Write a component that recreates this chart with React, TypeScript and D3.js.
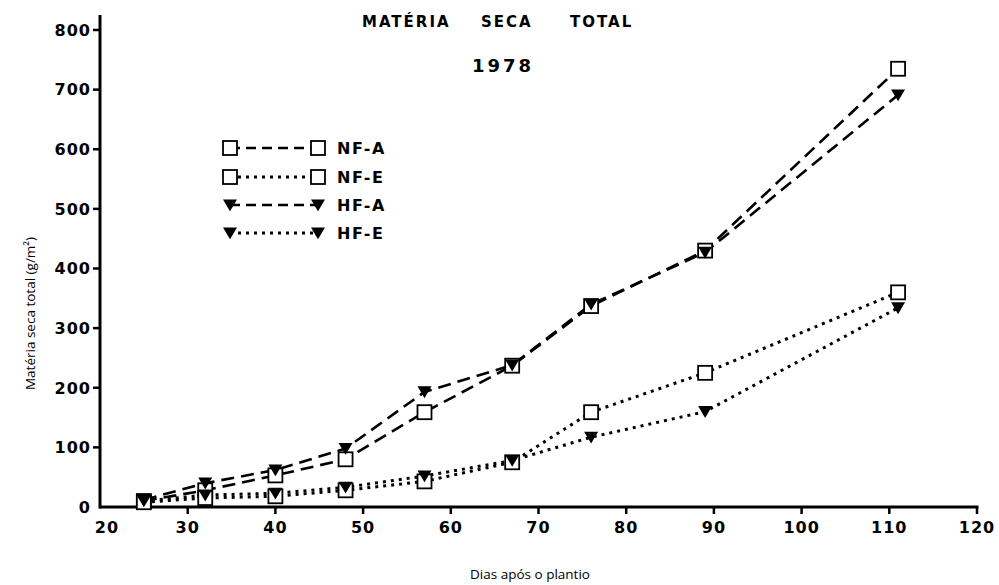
import React from 'react'
import * as d3 from 'd3'

// days after planting
const days = [25, 32, 40, 48, 57, 67, 76, 89, 111]

// total dry matter (g/m2)
const nfA = [10, 28, 53, 80, 159, 237, 337, 430, 735]
const nfE = [8, 15, 18, 28, 43, 75, 159, 225, 360]
const hfA = [12, 40, 62, 98, 193, 238, 340, 427, 691]
const hfE = [10, 20, 23, 33, 52, 78, 117, 160, 334]

const xTicks = [20, 30, 40, 50, 60, 70, 80, 90, 100, 110, 120]
const yTicks = [0, 100, 200, 300, 400, 500, 600, 700, 800]

const seriesNames = ['NF-A', 'NF-E', 'HF-A', 'HF-E']

const W = 999,
  H = 585

const font = "'DejaVu Sans', sans-serif"

const dashed = '13 7'
const dotted = '3 5'

const series = [
  { name: seriesNames[0], values: nfA, marker: 'square', dash: dashed },
  { name: seriesNames[1], values: nfE, marker: 'square', dash: dotted },
  { name: seriesNames[2], values: hfA, marker: 'tri', dash: dashed },
  { name: seriesNames[3], values: hfE, marker: 'tri', dash: dotted }
]

const Marker = ({ type, cx, cy }: { type: string; cx: number; cy: number }) => {
  if (type === 'square') {
    return (
      <rect
        x={cx - 7}
        y={cy - 7}
        width={14}
        height={14}
        fill="#fff"
        stroke="#000"
        strokeWidth={1.8}
      />
    )
  }
  const s = 7
  return (
    <path
      d={`M${cx - s},${cy - s * 0.8} L${cx + s},${cy - s * 0.8} L${cx},${cy + s * 0.9} Z`}
      fill="#000"
    />
  )
}

export default function App() {
  const x = d3.scaleLinear().domain([20, 120]).range([100, 977])
  const y = d3.scaleLinear().domain([0, 800]).range([507, 30])

  const line = d3
    .line<number>()
    .x((d, i) => x(days[i]))
    .y(d => y(d))

  // legend rows
  const legendY = [148, 177, 205, 233]

  return (
    <svg width={W} height={H} style={{ position: 'absolute', left: 0, top: 0, background: '#fff' }}>
      <rect width={W} height={H} fill="#fff" />

      {/* title */}
      <g fontFamily={font} fontWeight="bold" fontSize={15} letterSpacing={2} fill="#000">
        <text x={362} y={27}>MATÉRIA</text>
        <text x={481} y={27}>SECA</text>
        <text x={570} y={27}>TOTAL</text>
      </g>
      <text
        x={503}
        y={72}
        textAnchor="middle"
        fontFamily={font}
        fontWeight="bold"
        fontSize={18}
        letterSpacing={3}
      >
        1978
      </text>

      {/* axes */}
      <line x1={x(20)} x2={x(20)} y1={y(0) + 1.5} y2={y(825)} stroke="#000" strokeWidth={3} />
      <line x1={x(20)} x2={x(120) + 1.5} y1={y(0)} y2={y(0)} stroke="#000" strokeWidth={3} />

      {yTicks.map(t => (
        <g key={'y' + t}>
          {t > 0 && (
            <line x1={x(20) - 7} x2={x(20)} y1={y(t)} y2={y(t)} stroke="#000" strokeWidth={2.5} />
          )}
          <text
            x={x(20) - 9}
            y={y(t)}
            dy="0.36em"
            textAnchor="end"
            fontFamily={font}
            fontWeight="bold"
            fontSize={16}
            letterSpacing={1}
          >
            {t}
          </text>
        </g>
      ))}

      {xTicks.map(t => (
        <g key={'x' + t}>
          {t > 20 && (
            <line x1={x(t)} x2={x(t)} y1={y(0)} y2={y(0) + 7} stroke="#000" strokeWidth={2.5} />
          )}
          <text
            x={x(t) + (t === 20 ? 7 : 0)}
            y={y(0) + 26}
            textAnchor="middle"
            fontFamily={font}
            fontWeight="bold"
            fontSize={16}
            letterSpacing={1}
          >
            {t}
          </text>
        </g>
      ))}

      {/* axis titles */}
      <text
        transform={`translate(35,${(y(0) + y(800)) / 2 + 45}) rotate(-90)`}
        textAnchor="middle"
        fontFamily="'Open Sans', sans-serif"
        fontSize={13.5}
      >
        Matéria seca total (g/m²)
      </text>
      <text x={530} y={579} textAnchor="middle" fontFamily="'Open Sans', sans-serif" fontSize={13.5}>
        Dias após o plantio
      </text>

      {/* series */}
      {series.map(s => (
        <path
          key={'l' + s.name}
          d={line(s.values) || ''}
          fill="none"
          stroke="#000"
          strokeWidth={s.dash === dotted ? 3 : 2.6}
          strokeDasharray={s.dash}
        />
      ))}
      {series.map(s => (
        <g key={'m' + s.name}>
          {s.values.map((v, i) => (
            <Marker key={i} type={s.marker} cx={x(days[i])} cy={y(v)} />
          ))}
        </g>
      ))}

      {/* legend */}
      {series.map((s, i) => (
        <g key={'lg' + s.name}>
          <line
            x1={230}
            x2={318}
            y1={legendY[i]}
            y2={legendY[i]}
            stroke="#000"
            strokeWidth={s.dash === dotted ? 3 : 2.6}
            strokeDasharray={s.dash === dotted ? '3 5' : '10 6'}
          />
          <Marker type={s.marker} cx={230} cy={legendY[i]} />
          <Marker type={s.marker} cx={318} cy={legendY[i]} />
          <text
            x={337}
            y={legendY[i]}
            dy="0.36em"
            fontFamily={font}
            fontWeight="bold"
            fontSize={16}
            letterSpacing={1.5}
          >
            {s.name}
          </text>
        </g>
      ))}
    </svg>
  )
}
